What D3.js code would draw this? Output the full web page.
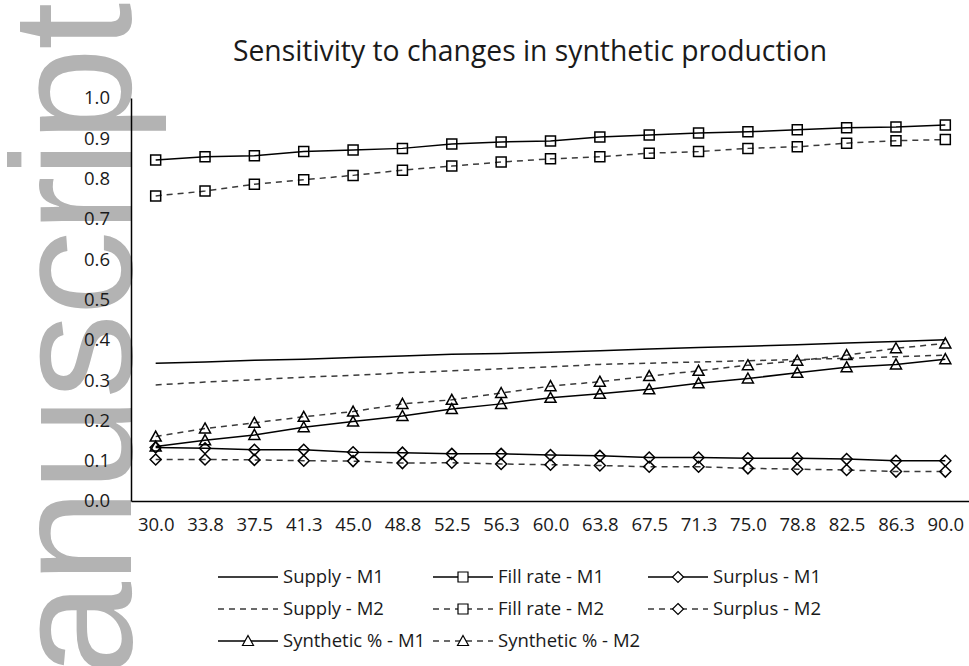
<!DOCTYPE html>
<html>
<head>
<meta charset="utf-8">
<script src="https://cdn.jsdelivr.net/npm/d3@7"></script>
<style>
  html, body { margin: 0; padding: 0; background: #fff; }
  svg { display: block; }
</style>
</head>
<body>
<svg id="chart" width="969" height="666"></svg>
<script>
// Data
const categories = ["30.0", "33.8", "37.5", "41.3", "45.0", "48.8", "52.5", "56.3", "60.0",
  "63.8", "67.5", "71.3", "75.0", "78.8", "82.5", "86.3", "90.0"]

const supplyM1 = [.342, .345, .349, .352, .356, .360, .364, .366, .369, .373, .377, .381, .384, .388, .392, .396, .400]
const supplyM2 = [.288, .295, .301, .307, .312, .318, .323, .328, .333, .339, .342, .345, .348, .351, .354, .358, .362]
const fillM1 = [.846, .854, .857, .867, .871, .875, .886, .891, .893, .903, .908, .913, .916, .921, .926, .928, .933]
const fillM2 = [.757, .769, .786, .797, .808, .821, .831, .841, .849, .854, .863, .867, .875, .879, .888, .894, .897]
const surplusM1 = [.133, .131, .127, .127, .121, .120, .117, .117, .114, .112, .108, .108, .106, .106, .104, .100, .100]
const surplusM2 = [.103, .103, .102, .100, .099, .094, .095, .092, .090, .088, .085, .085, .081, .079, .077, .073, .073]
const synthM1 = [.135, .151, .164, .183, .197, .211, .228, .241, .256, .266, .277, .292, .304, .318, .332, .339, .352]
const synthM2 = [.160, .180, .194, .209, .222, .241, .251, .268, .285, .296, .310, .323, .337, .348, .362, .379, .391]

const yTicks = [0, .1, .2, .3, .4, .5, .6, .7, .8, .9, 1]

const series = [
  {name: "Supply - M1", values: supplyM1, dash: null, marker: null},
  {name: "Fill rate - M1", values: fillM1, dash: null, marker: "square"},
  {name: "Surplus - M1", values: surplusM1, dash: null, marker: "diamond"},
  {name: "Supply - M2", values: supplyM2, dash: "6,5", marker: null},
  {name: "Fill rate - M2", values: fillM2, dash: "6,5", marker: "square"},
  {name: "Surplus - M2", values: surplusM2, dash: "6,5", marker: "diamond"},
  {name: "Synthetic % - M1", values: synthM1, dash: null, marker: "triangle"},
  {name: "Synthetic % - M2", values: synthM2, dash: "6,5", marker: "triangle"}
]

const font = "'Open Sans', sans-serif"
const ink = "#1a1a1a"

const svg = d3.select("#chart")

/* Watermark (runs bottom to top, cut by the page edges)
-------------------------------------------------------------------------------------------------*/
svg.append("text")
  .attr("transform", "translate(131,816) rotate(-90)")
  .attr("text-anchor", "start")
  .style("font-family", "'Liberation Sans', Arial, sans-serif")
  .style("font-size", "170px")
  .style("letter-spacing", "-2px")
  .style("fill", "#b3b3b3")
  .text("Manuscript")

/* Scales
-------------------------------------------------------------------------------------------------*/
const x = d3.scalePoint().domain(categories).range([131, 970]).padding(0.5)
const y = d3.scaleLinear().domain([0, 1]).range([501, 98])

// Title
svg.append("text")
  .attr("x", 530)
  .attr("y", 61)
  .attr("text-anchor", "middle")
  .style("font-family", font)
  .style("font-size", "28.3px")
  .style("fill", ink)
  .text("Sensitivity to changes in synthetic production")

/* Axes
-------------------------------------------------------------------------------------------------*/
const yAxis = svg.append("g")
  .attr("transform", "translate(131,0)")
  .call(d3.axisLeft(y).tickValues(yTicks).tickFormat(d3.format(".1f")).tickSize(0).tickPadding(21))
yAxis.select(".domain").attr("stroke", "#000").attr("stroke-width", 1.5)
yAxis.selectAll("text").style("font-family", font).style("font-size", "18.5px").style("fill", ink)

const xAxis = svg.append("g")
  .attr("transform", "translate(0,501)")
  .call(d3.axisBottom(x).tickSize(0).tickPadding(17))
xAxis.select(".domain").attr("stroke", "#000").attr("stroke-width", 1.5)
xAxis.selectAll("text").style("font-family", font).style("font-size", "18.5px").style("fill", ink)

/* Markers
-------------------------------------------------------------------------------------------------*/
function markerPath(type) {
  if (type === "square") return "M-5,-5H5V5H-5Z"
  if (type === "diamond") return "M0,-5.5L5.5,0L0,5.5L-5.5,0Z"
  if (type === "triangle") return "M0,-5.5L5.5,4.5H-5.5Z"
  return ""
}

/* Lines
-------------------------------------------------------------------------------------------------*/
const line = d3.line()
  .x((d, i) => x(categories[i]))
  .y(d => y(d))

series.forEach(s => {
  svg.append("path")
    .datum(s.values)
    .style("fill", "none")
    .style("stroke", s.dash ? "#3a3a3a" : "#000")
    .style("stroke-width", 1.5)
    .style("stroke-dasharray", s.dash)
    .attr("d", line)
})

series.filter(s => s.marker).forEach(s => {
  svg.append("g")
    .selectAll("path")
    .data(s.values)
    .enter()
    .append("path")
    .attr("transform", (d, i) => "translate(" + x(categories[i]) + "," + y(d) + ")")
    .attr("d", markerPath(s.marker))
    .style("fill", "none")
    .style("stroke", "#000")
    .style("stroke-width", 1.5)
})

/* Legend
-------------------------------------------------------------------------------------------------*/
const legendCols = [218, 433, 648]
const legendRows = [577, 609, 641]

const legend = svg.append("g")
  .selectAll("g")
  .data(series)
  .enter()
  .append("g")
  .attr("transform", (d, i) => "translate(" + legendCols[i % 3] + "," + legendRows[Math.floor(i / 3)] + ")")

legend.append("line")
  .attr("x1", 0).attr("x2", 60)
  .style("stroke", d => d.dash ? "#3a3a3a" : "#000")
  .style("stroke-width", 1.5)
  .style("stroke-dasharray", d => d.dash)

legend.filter(d => d.marker)
  .append("path")
  .attr("transform", "translate(30,0)")
  .attr("d", d => markerPath(d.marker))
  .style("fill", "#fff")
  .style("stroke", "#000")
  .style("stroke-width", 1.2)

legend.append("text")
  .attr("x", 65)
  .attr("dy", "0.35em")
  .style("font-family", font)
  .style("font-size", "18.5px")
  .style("fill", ink)
  .text(d => d.name)
</script>
</body>
</html>
